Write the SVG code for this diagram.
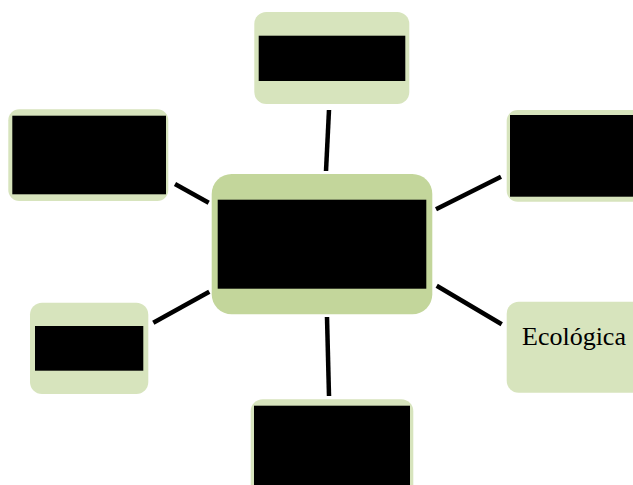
<svg xmlns="http://www.w3.org/2000/svg" width="633" height="485" viewBox="0 0 633 485">
<style>
.main{fill:#c3d69b}
.leaf{fill:#d7e4bd}
.blk{fill:#000}
.conn line{stroke:#000;stroke-width:4.5;stroke-linecap:butt}
.lbl{font-family:"Liberation Serif","Times New Roman",serif;font-size:26px;fill:#000}
</style>
<rect width="633" height="485" fill="#fff"/>
<g id="connectors" class="conn">
<line x1="329" y1="110" x2="326" y2="171"/>
<line x1="175" y1="184" x2="208.7" y2="202.7"/>
<line x1="436" y1="209.3" x2="501" y2="176.7"/>
<line x1="153.3" y1="322.7" x2="209.3" y2="291.7"/>
<line x1="436.7" y1="285.7" x2="501.7" y2="324.3"/>
<line x1="327" y1="317" x2="329" y2="396"/>
</g>
<g id="center">
<rect class="main" x="211.7" y="174" width="220.6" height="140.3" rx="20"/>
<rect class="blk" x="217.7" y="199.7" width="208.6" height="89"/>
</g>
<g id="top">
<rect class="leaf" x="254.3" y="12" width="155" height="92" rx="12"/>
<rect class="blk" x="258.7" y="35.7" width="146.6" height="45.3"/>
</g>
<g id="topleft">
<rect class="leaf" x="8.3" y="109.3" width="160" height="91.7" rx="11"/>
<rect class="blk" x="12.3" y="115.7" width="153.7" height="78.6"/>
</g>
<g id="topright">
<rect class="leaf" x="506.7" y="110" width="140" height="91.7" rx="11"/>
<rect class="blk" x="510" y="115" width="130" height="81.7"/>
</g>
<g id="bottomleft">
<rect class="leaf" x="30" y="302.7" width="118.3" height="91.3" rx="12"/>
<rect class="blk" x="35" y="326" width="108.3" height="44.7"/>
</g>
<g id="bottomright">
<rect class="leaf" x="506.7" y="301.7" width="140" height="91" rx="12"/>
<text class="lbl" x="522" y="345">Ecológica</text>
</g>
<g id="bottom">
<rect class="leaf" x="250.7" y="399.3" width="162.6" height="100" rx="12"/>
<rect class="blk" x="254" y="405.7" width="156" height="90"/>
</g>
</svg>
